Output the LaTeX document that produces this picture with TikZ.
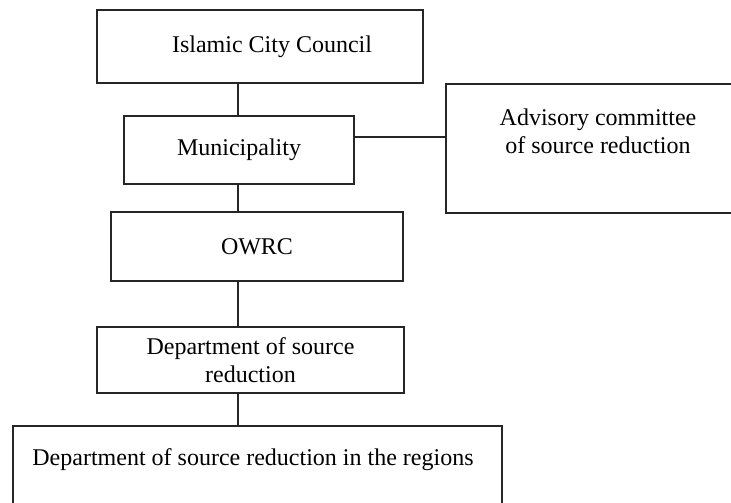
\documentclass[tikz,border=0pt]{standalone}
\usepackage{fontspec}
\setmainfont{Liberation Serif}

\begin{document}
\begin{tikzpicture}[x=1pt, y=-1pt,
  every node/.style={font=\fontsize{24}{28}\selectfont},
  box/.style={draw=black!85, line width=1.6pt, inner sep=0pt, align=center},
  link/.style={draw=black!85, line width=1.6pt}]
  \useasboundingbox (0,0) rectangle (731,503);
  \clip (0,0) rectangle (731,503);
  \node[box, minimum width=326pt, minimum height=73pt] (council) at (260,46.5) {\hspace*{24pt}Islamic City Council};
  \node[box, minimum width=230pt, minimum height=68pt] (muni) at (239,150) {Municipality};
  \node[box, minimum width=300pt, minimum height=129pt, anchor=north west] (advisory) at (445,83) {};
  \node[align=center] (advtext) at (598,131) {Advisory committee\\of source reduction};
  \node[box, minimum width=292pt, minimum height=69pt] (owrc) at (257,246.5) {OWRC};
  \node[box, minimum width=307pt, minimum height=66pt] (dept) at (250.5,360) {Department of source\\reduction};
  \node[box, minimum width=489pt, minimum height=100pt, anchor=north west] (regions) at (12,425) {};
  \node (regtext) at (253,460) {Department of source reduction in the regions};
  \coordinate (spine) at (238,0);
  \coordinate (side) at (0,137);
  \draw[link] (council.south -| spine) -- (muni.north -| spine);
  \draw[link] (muni.south -| spine) -- (owrc.north -| spine);
  \draw[link] (owrc.south -| spine) -- (dept.north -| spine);
  \draw[link] (dept.south -| spine) -- (regions.north -| spine);
  \draw[link] (muni.east |- side) -- (advisory.west |- side);
\end{tikzpicture}
\end{document}
